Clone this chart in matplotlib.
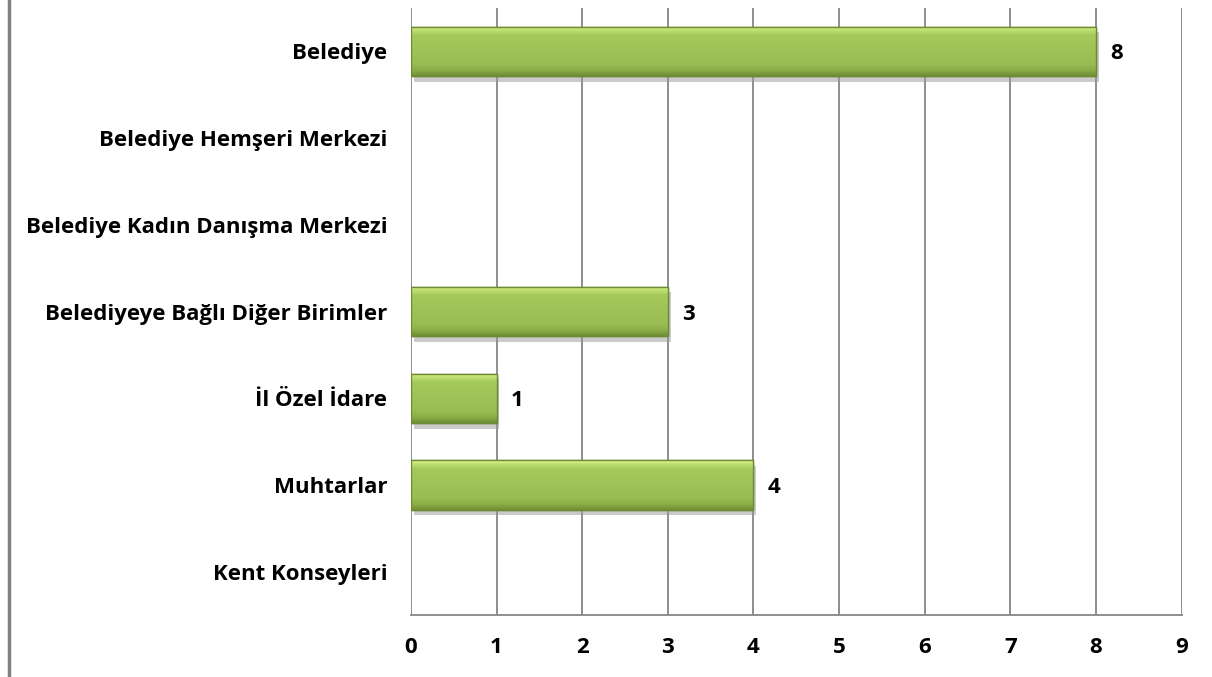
import numpy as np
import matplotlib.pyplot as plt
from matplotlib import patheffects as pe
from matplotlib.lines import Line2D
from matplotlib.colors import LinearSegmentedColormap

# veriler
categories = ['Belediye', 'Belediye Hemşeri Merkezi', 'Belediye Kadın Danışma Merkezi',
              'Belediyeye Bağlı Diğer Birimler', 'İl Özel İdare', 'Muhtarlar', 'Kent Konseyleri']
values = [8, 0, 0, 3, 1, 4, 0]
xticks = list(range(0, 10))

plt.rcParams['font.family'] = ['Open Sans', 'DejaVu Sans']

fig = plt.figure(figsize=(12.12, 6.77), dpi=100)
ax = fig.add_axes([0.339, 0.0916, 0.636, 0.8964])

y = np.arange(len(categories))
bars = ax.barh(y, values, height=0.57, color='#9bbb59', edgecolor='#6f8a35', linewidth=1.0, zorder=3)

# gradyan ve gölge
grad = np.linspace(0, 1, 256).reshape(-1, 1)
cmap = LinearSegmentedColormap.from_list('g', [(0.0, '#e2fa8c'), (0.07, '#c3e274'), (0.18, '#a6c95c'),
                                               (0.75, '#9abd53'), (0.88, '#8cae47'), (1.0, '#6f8d35')])
for b, v in zip(bars, values):
    if v == 0:
        b.set_visible(False)
        continue
    b.set_path_effects([pe.SimplePatchShadow(offset=(2, -4), shadow_rgbFace='#999999', alpha=0.5), pe.Normal()])
    x0, y0 = b.get_x(), b.get_y()
    w, h = b.get_width(), b.get_height()
    im = ax.imshow(grad, cmap=cmap, aspect='auto', extent=(x0, x0 + w, y0 + h, y0),
                   origin='upper', zorder=3.5)
    im.set_clip_path(b)
    ax.add_patch(plt.Rectangle((x0, y0), w, h, fill=False, edgecolor='#6f8a35', linewidth=1.0, zorder=4))
    ax.text(v + 0.17, b.get_y() + h / 2, str(v), va='center_baseline', ha='left',
            fontsize=16, fontweight='bold', color='black')

ax.set_ylim(len(categories) - 0.5, -0.5)
ax.set_xlim(0, 9)
ax.set_xticks(xticks)
ax.set_yticks(y)
ax.set_yticklabels(categories, fontsize=16, fontweight='bold')
ax.set_xticklabels([str(t) for t in xticks], fontsize=16, fontweight='bold')
ax.tick_params(axis='both', length=0)
ax.tick_params(axis='x', pad=16)
ax.tick_params(axis='y', pad=17)

ax.grid(axis='x', color='#868686', linewidth=1.3, zorder=0)
ax.set_axisbelow(True)
for s in ['top', 'right', 'left']:
    ax.spines[s].set_visible(False)
ax.spines['bottom'].set_color('#868686')
ax.spines['bottom'].set_linewidth(1.3)

# sol kenar çizgisi
fig.add_artist(Line2D([0.0075, 0.0075], [0, 1], transform=fig.transFigure, color='#808080', linewidth=2.5))

fig.savefig('out.png', dpi=100)
